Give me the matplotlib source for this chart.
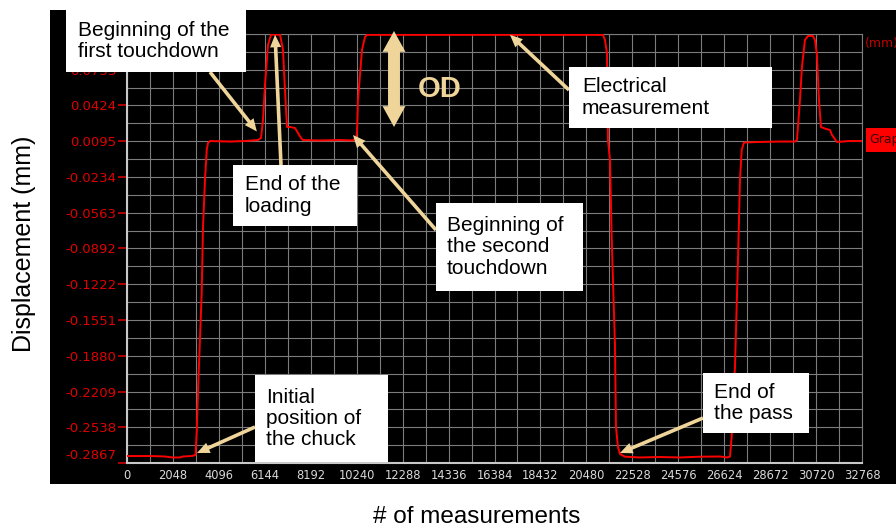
import matplotlib
matplotlib.use("Agg")
import matplotlib.pyplot as plt
from matplotlib.patches import Rectangle, FancyArrowPatch
from matplotlib.transforms import ScaledTranslation

# Displacement trace of the probe pass (measurement index vs. displacement in mm)
meas_index = [
    0, 1025, 1694, 2006, 2363, 2496, 2898, 3054, 3107, 3179, 3223, 3330, 3388,
    3477, 3553, 3611, 3700, 4592, 5260, 5840, 5974, 6063, 6152, 6286, 6420,
    6821, 6955, 7044, 7133, 7267, 7490, 7623, 7757, 7846, 8604, 9496, 10075,
    10209, 10253, 10298, 10476, 10610, 10699, 14399, 21220, 21309, 21398,
    21443, 21532, 21608, 21679, 21755, 21800, 21889, 21978, 22201, 22870,
    23761, 24653, 25545, 26436, 26748, 26882, 26958, 27029, 27105, 27239,
    27328, 27404, 27505, 28219, 29111, 29779, 29868, 30002, 30091, 30225,
    30359, 30582, 30671, 30760, 30849, 30938, 31161, 31340, 31429, 31652,
    32187, 32768,
]
displacement_mm = [
    -0.2803, -0.2803, -0.2807, -0.2816, -0.2816, -0.2807, -0.2803, -0.2793,
    -0.2591, -0.2131, -0.1891, -0.1302, -0.0695, -0.0262, 0.0014, 0.0079,
    0.0097, 0.0092, 0.0097, 0.0106, 0.0125, 0.0290, 0.0612, 0.0981, 0.1076,
    0.1076, 0.0935, 0.0566, 0.0226, 0.0226, 0.0217, 0.0171, 0.0125, 0.0106,
    0.0102, 0.0106, 0.0102, 0.0125, 0.0171, 0.0475, 0.0935, 0.1054, 0.1074,
    0.1074, 0.1074, 0.1027, 0.0907, 0.0106, -0.0078, -0.0787, -0.1275,
    -0.1781, -0.2536, -0.2720, -0.2784, -0.2809, -0.2816, -0.2812, -0.2816,
    -0.2809, -0.2807, -0.2816, -0.2809, -0.2625, -0.2287, -0.1981, -0.0998,
    -0.0262, 0.0014, 0.0083, 0.0088, 0.0092, 0.0092, 0.0106, 0.0475, 0.0778,
    0.1027, 0.1064, 0.1064, 0.1027, 0.0889, 0.0475, 0.0226, 0.0208, 0.0199,
    0.0153, 0.0088, 0.0097, 0.0097,
]

x_ticks = [0, 2048, 4096, 6144, 8192, 10240, 12288, 14336, 16384, 18432,
           20480, 22528, 24576, 26624, 28672, 30720, 32768]
y_ticks = [-0.2867, -0.2538, -0.2209, -0.1880, -0.1551, -0.1222, -0.0892,
           -0.0563, -0.0234, 0.0095, 0.0424, 0.0753, 0.1082]
# the top tick carries no visible label
y_tick_labels = ["-0.2867", "-0.2538", "-0.2209", "-0.1880", "-0.1551",
                 "-0.1222", "-0.0892", "-0.0563", "-0.0234", "0.0095",
                 "0.0424", "0.0753", ""]

W, H = 896, 528
TAN = "#efd59a"
FONT = "Liberation Sans"

fig = plt.figure(figsize=(W / 100, H / 100), dpi=100)
fig.patch.set_facecolor("white")


def fx(px):
    return px / W


def fy(py):
    return 1 - py / H


# black instrument panel behind the plot
fig.add_artist(Rectangle((fx(50), fy(484)), (900 - 50) / W, (484 - 10) / H,
                         transform=fig.transFigure, facecolor="black",
                         edgecolor="none", zorder=-5))

ax = fig.add_axes([fx(127), fy(463), (862 - 127) / W, (463 - 34) / H])
ax.set_facecolor("black")
ax.plot(meas_index, displacement_mm, color="#ff0000", lw=1.4, zorder=3)

ax.set_xlim(x_ticks[0], x_ticks[-1])
ax.set_ylim(y_ticks[0], y_ticks[-1])
ax.set_xticks(x_ticks, [str(v) for v in x_ticks])
ax.set_xticks([(a + b) / 2 for a, b in zip(x_ticks[:-1], x_ticks[1:])], minor=True)
ax.set_yticks(y_ticks, y_tick_labels)
ax.set_yticks([(a + b) / 2 for a, b in zip(y_ticks[:-1], y_ticks[1:])], minor=True)

ax.set_axisbelow(True)
ax.grid(which="both", color="#7c7c7c", lw=0.8)
ax.tick_params(axis="x", which="both", length=0, pad=4.0, labelsize=8.3,
               labelcolor="#d9d9d9")
ax.tick_params(axis="y", which="major", length=6.5, width=1.1, color="#e00000",
               pad=1, labelsize=9.5, labelcolor="#e00000")
ax.tick_params(axis="y", which="minor", length=0)
for side in ("top", "right"):
    ax.spines[side].set_color("#7c7c7c")
    ax.spines[side].set_linewidth(0.8)
for side in ("left", "bottom"):
    ax.spines[side].set_color("#c8c8c8")
    ax.spines[side].set_linewidth(1.5)

# lowest label sits a little above its tick
lab0 = ax.yaxis.get_major_ticks()[0].label1
lab0.set_transform(lab0.get_transform() + ScaledTranslation(0, 0.09, fig.dpi_scale_trans))

# axis titles
fig.text(fx(24), fy(244), "Displacement (mm)", rotation=90, ha="center",
         va="center", fontsize=18, family=FONT, color="black")
fig.text(fx(477), fy(523), "# of measurements", ha="center", va="baseline",
         fontsize=17.5, family=FONT, color="black")

# right-hand instrument labels
fig.text(fx(865), fy(43), "(mm)", color="#c00000", fontsize=9, ha="left", va="center")
fig.add_artist(Rectangle((fx(866), fy(152)), 40 / W, 24 / H, transform=fig.transFigure,
                         facecolor="#ff0000", edgecolor="none", zorder=2))
fig.text(fx(869), fy(140), "Graph", color="#3a0000", fontsize=9, ha="left",
         va="center", zorder=3)

# callout boxes: (left, top, right, bottom, text_x, text)
callouts = [
    (66, 10, 246, 72, 78, "Beginning of the\nfirst touchdown"),
    (233, 165, 357, 226, 245, "End of the\nloading"),
    (569, 67, 772, 128, 582, "Electrical\nmeasurement"),
    (436, 203, 583, 291, 447, "Beginning of\nthe second\ntouchdown"),
    (255, 375, 388, 462, 266, "Initial\nposition of\nthe chuck"),
    (703, 373, 809, 433, 714, "End of\nthe pass"),
]
for l, t, r, b, tx, txt in callouts:
    fig.add_artist(Rectangle((fx(l), fy(b)), (r - l) / W, (b - t) / H,
                             transform=fig.transFigure, facecolor="white",
                             edgecolor="none", zorder=4))
    fig.text(fx(tx), fy((t + b) / 2), txt, ha="left", va="center",
             fontsize=15, family=FONT, color="black", linespacing=1.15, zorder=5)

# arrows from the callouts to the trace: (tip x, tip y in data) <- (tail px)
arrow_style = "simple,head_length=0.9,head_width=0.8,tail_width=0.26"
pointers = [
    ((5790, 0.0185), (210, 72)),
    ((6600, 0.1075), (281, 165)),
    ((17074, 0.1075), (569, 90)),
    ((10075, 0.0152), (436, 230)),
    ((3121, -0.2775), (255, 427)),
    ((21978, -0.2775), (703, 418)),
]
for tip, tail in pointers:
    ax.annotate("", xy=tip, xycoords="data", xytext=(tail[0], H - tail[1]),
                textcoords="figure pixels",
                arrowprops=dict(arrowstyle=arrow_style, mutation_scale=10,
                                fc=TAN, ec="none", shrinkA=0, shrinkB=0),
                zorder=4)

# overdrive double arrow
od_style = "simple,head_length=1.5,head_width=1.65,tail_width=0.86"
for end in (31, 127):
    fig.add_artist(FancyArrowPatch((fx(394), fy(79)), (fx(394), fy(end)),
                                   transform=fig.transFigure, arrowstyle=od_style,
                                   mutation_scale=10, fc=TAN, ec="none",
                                   shrinkA=0, shrinkB=0, zorder=4))
fig.text(fx(440), fy(89), "OD", fontsize=21, fontweight="bold", family=FONT,
         color=TAN, ha="center", va="center", zorder=5)

fig.savefig("out.png", dpi=100)
